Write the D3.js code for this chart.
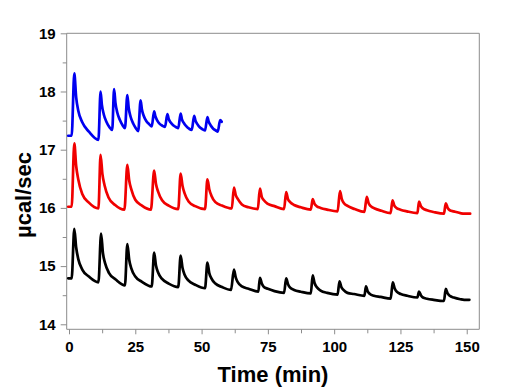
<!DOCTYPE html>
<html>
<head>
<meta charset="utf-8">
<script src="https://cdn.jsdelivr.net/npm/d3@7"></script>
<style>
  html, body { margin: 0; padding: 0; background: #fff; }
  svg { display: block; }
  text { font-family: "Liberation Sans", Arial, sans-serif; font-weight: bold; }
</style>
</head>
<body>
<svg id="chart" width="510" height="390"></svg>
<script>
// ---- data (time in min, signal in µcal/sec) ----
const blueT = [-0.3, 1.0, 2.0, 2.7, 3.5, 5.0, 7.5, 11.1,
  11.9, 12.4, 13.1, 14.1, 15.2, 16.3,
  17.0, 17.5, 18.2, 19.2, 20.2, 21.1,
  22.0, 22.5, 23.2, 24.2, 25.2, 26.1,
  27.0, 27.5, 28.2, 29.2, 30.2, 31.2,
  32.1, 32.6, 33.3, 34.3, 35.3, 36.2,
  37.1, 37.6, 38.3, 39.3, 40.3, 41.2,
  42.1, 42.6, 43.3, 44.3, 45.3, 46.3,
  47.2, 47.7, 48.4, 49.4, 50.4, 51.3,
  52.2, 52.7, 53.4, 54.4, 55.4, 56.1,
  57.0, 57.6];
const blueV = [17.24, 17.24, 18.31, 17.90, 17.67, 17.47, 17.31, 17.17,
  18.00, 17.77, 17.61, 17.48, 17.39, 17.34,
  18.04, 17.81, 17.64, 17.51, 17.42, 17.37,
  17.94, 17.72, 17.57, 17.45, 17.37, 17.32,
  17.85, 17.69, 17.58, 17.49, 17.44, 17.40,
  17.66, 17.57, 17.50, 17.44, 17.41, 17.39,
  17.61, 17.53, 17.47, 17.42, 17.39, 17.37,
  17.62, 17.52, 17.46, 17.40, 17.36, 17.34,
  17.58, 17.50, 17.44, 17.38, 17.35, 17.33,
  17.56, 17.48, 17.42, 17.36, 17.33, 17.31,
  17.51, 17.48];

const redT = [-0.3, 1.0, 2.0, 2.7, 3.5, 5.0, 7.5, 11.1,
  11.9, 12.6, 13.4, 14.9, 17.4, 20.9,
  22.0, 22.7, 23.5, 25.0, 27.5, 30.9,
  32.1, 32.8, 33.6, 35.1, 37.6, 41.2,
  42.1, 42.8, 43.6, 45.1, 47.6, 51.3,
  52.2, 52.9, 53.7, 55.2, 57.7, 61.4,
  62.2, 62.9, 63.7, 65.2, 67.7, 71.2,
  72.0, 72.7, 73.5, 75.0, 77.5, 81.1,
  81.9, 82.6, 83.4, 84.9, 87.4, 91.2,
  91.9, 92.6, 93.4, 94.9, 97.4, 101.3,
  102.2, 102.9, 103.7, 105.2, 107.7, 111.4,
  112.3, 113.0, 113.8, 115.3, 117.8, 121.3,
  122.0, 122.7, 123.5, 125.0, 127.5, 131.4,
  132.0, 132.7, 133.5, 135.0, 137.5, 141.4,
  142.1, 142.8, 143.6, 145.1, 147.6, 149.0, 151.3];
const redV = [16.02, 16.02, 17.11, 16.72, 16.49, 16.24, 16.09, 15.99,
  16.91, 16.58, 16.39, 16.18, 16.05, 15.97,
  16.74, 16.47, 16.32, 16.14, 16.04, 15.97,
  16.64, 16.41, 16.28, 16.13, 16.04, 15.98,
  16.59, 16.38, 16.25, 16.11, 16.03, 15.98,
  16.49, 16.32, 16.21, 16.10, 16.04, 15.99,
  16.35, 16.22, 16.15, 16.06, 16.01, 15.98,
  16.33, 16.19, 16.13, 16.07, 16.03, 15.98,
  16.27, 16.15, 16.10, 16.05, 16.01, 15.97,
  16.15, 16.07, 16.03, 16.00, 15.97, 15.94,
  16.29, 16.15, 16.08, 16.03, 15.98, 15.93,
  16.19, 16.08, 16.03, 15.99, 15.95, 15.91,
  16.13, 16.04, 16.00, 15.97, 15.94, 15.91,
  16.11, 16.03, 15.99, 15.96, 15.93, 15.90,
  16.08, 16.00, 15.96, 15.94, 15.91, 15.90, 15.90];

const blackT = [-0.3, 1.0, 2.0, 2.7, 3.5, 5.0, 7.5, 11.1,
  12.1, 12.8, 13.6, 15.1, 17.6, 21.1,
  22.0, 22.7, 23.5, 25.0, 27.5, 31.2,
  32.1, 32.8, 33.6, 35.1, 37.6, 41.2,
  42.1, 42.8, 43.6, 45.1, 47.6, 51.3,
  52.2, 52.9, 53.7, 55.2, 57.7, 61.1,
  62.2, 62.9, 63.7, 65.2, 67.7, 71.4,
  72.0, 72.7, 73.5, 75.0, 77.5, 81.1,
  81.9, 82.6, 83.4, 84.9, 87.4, 91.2,
  91.9, 92.6, 93.4, 94.9, 97.4, 101.3,
  102.0, 102.7, 103.5, 105.0, 107.5, 111.4,
  112.0, 112.7, 113.5, 115.0, 117.5, 121.3,
  122.1, 122.8, 123.6, 125.1, 127.6, 131.4,
  132.0, 132.7, 133.5, 135.0, 137.5, 141.4,
  142.1, 142.8, 143.6, 145.1, 147.6, 149.0, 151.0];
const blackV = [14.79, 14.79, 15.64, 15.32, 15.12, 14.94, 14.82, 14.72,
  15.56, 15.22, 15.05, 14.88, 14.77, 14.67,
  15.38, 15.11, 14.96, 14.82, 14.73, 14.65,
  15.23, 15.01, 14.89, 14.78, 14.70, 14.64,
  15.18, 14.97, 14.85, 14.75, 14.68, 14.62,
  15.06, 14.88, 14.79, 14.70, 14.64, 14.59,
  14.94, 14.80, 14.72, 14.65, 14.61, 14.56,
  14.80, 14.70, 14.64, 14.61, 14.57, 14.54,
  14.79, 14.69, 14.63, 14.59, 14.56, 14.53,
  14.84, 14.71, 14.64, 14.58, 14.54, 14.51,
  14.74, 14.64, 14.59, 14.54, 14.52, 14.49,
  14.65, 14.56, 14.52, 14.49, 14.47, 14.44,
  14.72, 14.62, 14.56, 14.52, 14.49, 14.46,
  14.56, 14.50, 14.46, 14.44, 14.42, 14.40,
  14.61, 14.53, 14.49, 14.46, 14.43, 14.42, 14.42];

const xTicks = [0, 25, 50, 75, 100, 125, 150];
const yTicks = [14, 15, 16, 17, 18, 19];
const xLabel = "Time (min)";
const yLabel = "µcal/sec";

// ---- layout ----
const svg = d3.select("#chart");
const L = 66.7, R = 479.3, T = 33.3, B = 329.3;
const x = d3.scaleLinear().domain([-0.87, 154.74]).range([L, R]);
const y = d3.scaleLinear().domain([13.914, 19]).range([B, T]);
const gray = "#8c8c8c";

// frame top & right
svg.append("line").attr("x1", L).attr("x2", R).attr("y1", T).attr("y2", T)
  .attr("stroke", gray).attr("stroke-width", 1);
svg.append("line").attr("x1", R).attr("x2", R).attr("y1", T).attr("y2", B)
  .attr("stroke", gray).attr("stroke-width", 1);

// minor ticks
const xMinor = d3.range(12.5, 151, 25);
const yMinor = d3.range(14.5, 19, 1);
const gxm = svg.append("g").attr("transform", `translate(0,${B})`)
  .call(d3.axisBottom(x).tickValues(xMinor).tickSize(4).tickFormat(""));
const gym = svg.append("g").attr("transform", `translate(${L},0)`)
  .call(d3.axisLeft(y).tickValues(yMinor).tickSize(4).tickFormat(""));

// major axes
const gx = svg.append("g").attr("transform", `translate(0,${B})`)
  .call(d3.axisBottom(x).tickValues(xTicks).tickSize(5).tickPadding(7).tickFormat(d3.format("d")));
const gy = svg.append("g").attr("transform", `translate(${L},0)`)
  .call(d3.axisLeft(y).tickValues(yTicks).tickSize(6).tickPadding(5).tickFormat(d3.format("d")));

[gx, gy, gxm, gym].forEach(g => {
  g.selectAll(".domain").attr("stroke", gray).attr("stroke-width", 1);
  g.selectAll(".tick line").attr("stroke", gray).attr("stroke-width", 1);
  g.selectAll("text").attr("fill", "#000").style("font-size", "15px")
    .style("font-family", '"Liberation Sans", Arial, sans-serif').style("font-weight", "bold");
});
gx.selectAll(".domain").attr("d", `M${L},0H${R}`);
gy.selectAll(".domain").attr("d", `M0,${T}V${B}`);
gxm.selectAll(".domain").remove();
gym.selectAll(".domain").remove();

// series
const line = d3.line().x(d => x(d[0])).y(d => y(d[1])).curve(d3.curveMonotoneX);
const series = [
  { t: blueT, v: blueV, color: "#0000f0" },
  { t: redT, v: redV, color: "#f00000" },
  { t: blackT, v: blackV, color: "#000000" }
];
series.forEach(s => {
  const pts = s.t.map((t, i) => [t, s.v[i]]);
  svg.append("path").datum(pts).attr("d", line)
    .attr("fill", "none").attr("stroke", s.color)
    .attr("stroke-width", 2.7).attr("stroke-linejoin", "round").attr("stroke-linecap", "round");
});

// axis titles
svg.append("text").attr("x", (L + R) / 2).attr("y", 382)
  .attr("text-anchor", "middle").style("font-size", "22px").text(xLabel);
svg.append("text").attr("transform", "translate(31,195) rotate(-90)")
  .attr("text-anchor", "middle").style("font-size", "22px").text(yLabel);
</script>
</body>
</html>
